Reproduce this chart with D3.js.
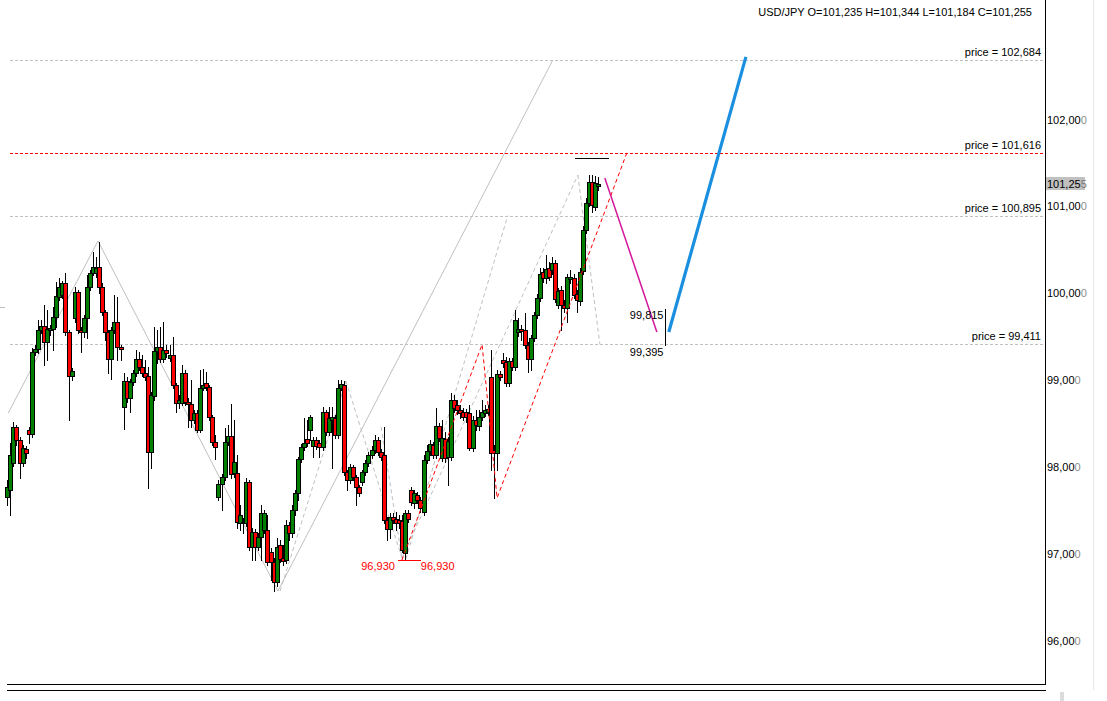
<!DOCTYPE html>
<html><head><meta charset="utf-8">
<script src="https://cdn.jsdelivr.net/npm/d3@7"></script>
<style>
html,body{margin:0;padding:0;background:#fff;}
svg{display:block;}
text{font-family:"Liberation Sans",Arial,sans-serif;font-size:11px;}
</style></head><body>
<svg id="chart" width="1107" height="701"></svg>
<script>
const symbol = "USD/JPY";
const opens = [97.656,97.737,98.047,98.462,98.312,98.047,98.208,98.427,98.381,99.325,99.359,99.578,99.624,99.440,99.578,99.589,99.727,99.957,99.980,100.119,99.555,99.048,99.716,100.015,99.578,99.555,99.716,100.073,100.234,100.234,100.303,100.073,99.785,99.555,99.244,99.578,99.670,99.382,98.692,98.991,98.795,98.979,99.083,99.244,99.152,99.083,99.048,98.174,98.818,99.336,99.382,99.244,99.348,99.256,99.290,98.945,98.738,98.738,99.083,98.749,98.726,98.542,98.623,98.427,98.910,98.968,98.922,98.577,98.289,97.656,97.806,97.886,98.289,98.358,97.932,97.932,97.357,97.368,97.357,97.829,97.081,97.253,97.081,97.196,97.276,97.276,97.023,96.908,96.678,97.104,96.954,96.931,97.334,97.242,97.506,97.702,98.093,98.231,98.323,98.427,98.243,98.312,98.277,98.231,98.634,98.404,98.542,98.565,98.370,98.910,98.945,97.944,97.852,98.001,97.886,97.771,97.829,97.944,98.047,98.139,98.197,98.312,98.174,98.139,97.391,97.288,97.426,97.403,97.391,97.380,97.012,97.472,97.737,97.587,97.679,97.622,97.483,98.082,98.185,98.254,98.139,98.473,98.105,98.323,98.116,98.116,98.772,98.715,98.657,98.634,98.634,98.623,98.220,98.542,98.473,98.577,98.623,98.634,99.037,98.197,98.162,99.071,99.233,99.210,98.968,99.221,99.152,99.555,99.589,99.578,99.405,99.244,99.486,99.750,99.946,100.245,100.176,100.291,100.268,100.349,99.865,100.038,99.865,99.831,100.165,100.176,99.992,99.911,100.257,100.728,101.039,101.281,100.993,101.235];
const highs = [97.852,98.277,98.519,98.485,98.346,98.254,98.243,98.462,99.371,99.405,99.693,99.693,99.865,99.808,99.635,99.842,100.130,100.176,100.142,100.234,99.578,99.140,100.073,100.038,99.612,99.750,100.211,100.268,100.475,100.418,100.590,100.119,99.808,99.578,99.612,99.980,99.957,99.405,99.083,99.037,99.014,99.117,99.348,99.325,99.290,99.233,99.152,98.864,99.612,99.578,99.612,99.670,99.405,99.405,99.497,98.968,98.830,99.175,99.117,98.795,99.002,98.657,98.657,99.117,99.129,99.094,98.945,98.600,98.370,97.852,97.921,98.450,98.485,98.726,98.542,98.139,97.564,97.414,97.875,97.852,97.299,97.288,97.242,97.564,97.506,97.449,97.069,96.954,97.184,97.161,97.104,97.391,97.368,97.564,97.737,98.116,98.266,98.565,98.542,98.600,98.346,98.346,98.312,98.692,98.657,98.692,98.692,98.600,99.002,99.002,98.991,97.967,98.036,98.024,97.909,97.794,97.967,98.082,98.174,98.243,98.370,98.346,98.208,98.462,97.426,97.472,97.472,97.483,97.449,97.449,97.506,97.506,97.771,97.737,97.714,97.656,98.139,98.254,98.312,98.289,98.680,98.508,98.542,98.404,98.346,98.853,98.830,98.772,98.715,98.680,98.669,98.715,98.588,98.657,98.657,98.772,98.715,98.715,99.348,98.254,99.117,99.106,99.313,99.267,99.256,99.256,99.808,99.716,99.635,99.773,99.440,99.520,99.785,99.992,100.291,100.291,100.441,100.360,100.418,100.383,100.061,100.084,99.923,100.222,100.268,100.222,100.038,100.291,100.774,101.097,101.361,101.361,101.350,101.344];
const lows = [97.564,97.449,98.013,98.254,97.875,98.013,98.105,98.277,98.346,99.290,99.313,99.543,99.175,99.233,99.520,99.348,99.612,99.923,99.946,99.520,98.542,99.002,99.670,99.543,99.325,99.497,99.486,100.038,100.211,100.188,100.003,99.750,99.463,99.083,99.014,99.543,99.233,99.233,98.439,98.749,98.634,98.945,99.048,99.117,99.048,99.002,97.760,97.990,98.772,99.198,99.210,99.210,99.267,99.221,98.910,98.634,98.680,98.715,98.715,98.462,98.462,98.508,98.404,98.404,98.887,98.887,98.542,98.254,98.093,97.622,97.506,97.852,98.254,97.875,97.886,97.299,97.276,97.242,97.322,97.046,96.931,96.931,97.046,96.931,97.242,96.874,96.701,96.574,96.632,96.908,96.874,96.897,97.161,97.196,97.449,97.622,98.059,98.197,98.243,98.312,98.116,98.208,98.116,98.197,98.370,98.370,97.990,98.335,98.335,98.887,97.909,97.737,97.817,97.852,97.564,97.668,97.794,97.909,98.013,98.105,98.162,98.139,98.082,97.357,97.161,97.184,97.357,97.276,97.299,97.023,96.931,97.368,97.564,97.529,97.587,97.483,97.449,98.047,98.139,98.105,98.105,98.300,98.070,98.059,97.794,98.082,98.634,98.611,98.565,98.542,98.519,98.197,98.185,98.427,98.427,98.542,98.588,98.600,97.967,97.645,97.967,99.002,99.152,98.933,98.933,99.117,99.117,99.509,99.463,99.371,99.094,99.117,99.451,99.716,99.911,100.130,100.119,100.153,100.222,99.900,99.831,99.578,99.785,99.670,100.119,99.946,99.785,99.865,100.222,100.694,101.005,100.936,100.959,101.184];
const closes = [97.771,98.139,98.462,98.312,98.047,98.220,98.162,98.381,99.325,99.359,99.578,99.624,99.440,99.589,99.601,99.727,99.969,100.073,100.119,99.555,99.048,99.106,100.015,99.578,99.555,99.716,100.073,100.234,100.303,100.291,100.073,99.785,99.555,99.244,99.578,99.670,99.382,99.359,98.991,98.795,98.979,99.083,99.244,99.152,99.083,99.037,98.174,98.830,99.336,99.382,99.244,99.348,99.313,99.290,98.945,98.738,98.772,99.083,98.749,98.726,98.542,98.623,98.427,98.910,98.945,98.922,98.577,98.289,98.231,97.806,97.886,98.289,98.358,97.921,98.059,97.368,97.449,97.357,97.829,97.081,97.253,97.081,97.196,97.472,97.472,96.908,96.908,96.678,97.081,96.943,96.920,97.334,97.242,97.506,97.702,98.093,98.231,98.277,98.277,98.577,98.312,98.243,98.231,98.634,98.404,98.565,98.577,98.370,98.910,98.956,97.944,97.852,98.001,97.886,97.771,97.702,97.944,98.047,98.139,98.197,98.312,98.174,98.116,97.391,97.288,97.426,97.391,97.357,97.357,97.046,97.472,97.403,97.599,97.702,97.622,97.529,98.082,98.185,98.266,98.139,98.473,98.335,98.335,98.105,98.300,98.772,98.680,98.657,98.623,98.577,98.577,98.220,98.542,98.485,98.577,98.634,98.657,98.669,98.162,98.162,99.071,99.037,99.198,98.968,99.221,99.152,99.693,99.589,99.566,99.405,99.244,99.486,99.750,99.946,100.222,100.176,100.280,100.188,100.349,99.934,100.027,99.865,99.831,100.188,100.188,99.980,99.923,100.245,100.728,101.039,101.281,101.016,101.269,101.255];

const yTicks = [96, 97, 98, 99, 100, 101, 102];
const priceLevels = [102.684, 101.616, 100.895, 99.411];
const activeLevelIndex = 1;

// drawings: [bar index, price]
const zigzag = [[0, 98.623], [29.3, 100.602], [88.1, 96.574], [177.9, 102.684]];
const grayDashed = [
  [[88.8, 96.574], [110.3, 98.991]],
  [[110.3, 98.991], [128.6, 96.954]],
  [[121.8, 98.462], [128.6, 96.954]],
  [[129.9, 96.943], [163.2, 100.895]],
  [[128.6, 96.954], [186.1, 101.361]],
  [[186.1, 101.361], [193.3, 99.411]]
];
const redDashed = [[128.6, 96.930], [154.8, 99.411], [159.7, 97.645], [202.1, 101.616]];
const lowMark = {from: 127.3, to: 134.8, price: 96.930};
const topMark = {from: 185.1, to: 196.2, price: 101.557};
const magentaLeg = [[194.9, 101.327], [211.9, 99.555]];
const rangeBar = {at: 214.5, low: 99.395, high: 99.815};
const blueLeg = [[215.8, 99.555], [241.0, 102.72]];
const edgeMark = {from: -2.7, to: -1.1, price: 99.842};

const plotRight = 1045, plotBottom = 684;
const svg = d3.select("#chart");

const n = opens.length;
const x = d3.scaleLinear().domain([0, n - 1]).range([8.3, 599]);
const y = d3.scaleLinear().domain([96, 102]).range([640.9, 119.5]);
const fmt3 = v => v.toFixed(3).replace(".", ",");
const crisp = v => Math.round(v) + 0.5;
const line = d3.line().x(d => x(d[0])).y(d => y(d[1]));

const g = svg.append("g");

// price level lines
priceLevels.forEach((p, k) => {
  const red = k === activeLevelIndex;
  g.append("line")
    .attr("x1", Math.round(x(0.55))).attr("x2", plotRight)
    .attr("y1", crisp(y(p))).attr("y2", crisp(y(p)))
    .attr("stroke", red ? "#ff0000" : "#c0c0c0")
    .attr("stroke-width", 1)
    .attr("shape-rendering", "crispEdges")
    .attr("stroke-dasharray", "3,2");
});
g.append("line")
  .attr("x1", x(edgeMark.from)).attr("x2", x(edgeMark.to))
  .attr("y1", crisp(y(edgeMark.price))).attr("y2", crisp(y(edgeMark.price)))
  .attr("stroke", "#c0c0c0").attr("shape-rendering", "crispEdges");

// zigzag solid
g.append("path").attr("d", line(zigzag)).attr("fill", "none")
  .attr("stroke", "#c0c0c0").attr("stroke-width", 1);
// gray dashed
grayDashed.forEach(seg => {
  g.append("path").attr("d", line(seg)).attr("fill", "none")
    .attr("stroke", "#c0c0c0").attr("stroke-width", 1).attr("stroke-dasharray", "4,3");
});

// candles
const candles = d3.range(n).map(i => ({i, o: opens[i], h: highs[i], l: lows[i], c: closes[i]}));
const cg = g.append("g").attr("shape-rendering", "crispEdges");
candles.forEach(d => {
  const px = Math.round(x(d.i));
  const up = d.c >= d.o;
  cg.append("line")
    .attr("x1", px - 0.5).attr("x2", px - 0.5)
    .attr("y1", Math.round(y(d.h))).attr("y2", Math.round(y(d.l)) + 1)
    .attr("stroke", "#000").attr("stroke-width", 1);
  const top = Math.round(y(Math.max(d.o, d.c)));
  const bot = Math.round(y(Math.min(d.o, d.c)));
  cg.append("rect")
    .attr("x", px - 2.5).attr("width", 4)
    .attr("y", top + 0.5).attr("height", Math.max(bot - top, 1))
    .attr("fill", up ? "#008000" : "#ff0000")
    .attr("stroke", "#000").attr("stroke-width", 1);
});

// red dashed legs
g.append("path").attr("d", line(redDashed)).attr("fill", "none")
  .attr("stroke", "#ff0000").attr("stroke-width", 1).attr("stroke-dasharray", "4,3");

// low mark
g.append("line")
  .attr("x1", x(lowMark.from)).attr("x2", x(lowMark.to))
  .attr("y1", crisp(y(lowMark.price))).attr("y2", crisp(y(lowMark.price)))
  .attr("stroke", "#ff0000").attr("shape-rendering", "crispEdges");
g.append("text").attr("x", x(lowMark.from) - 3).attr("y", y(lowMark.price) + 10)
  .attr("text-anchor", "end").attr("fill", "#ff0000").text(fmt3(lowMark.price));
g.append("text").attr("x", x(lowMark.to)).attr("y", y(lowMark.price) + 10)
  .attr("fill", "#ff0000").text(fmt3(lowMark.price));

// top mark
g.append("line")
  .attr("x1", x(topMark.from)).attr("x2", x(topMark.to))
  .attr("y1", crisp(y(topMark.price))).attr("y2", crisp(y(topMark.price)))
  .attr("stroke", "#000").attr("shape-rendering", "crispEdges");

// magenta leg
g.append("path").attr("d", line(magentaLeg)).attr("fill", "none")
  .attr("stroke", "#d4169a").attr("stroke-width", 1.5);

// range bar
const rbx = crisp(x(rangeBar.at));
g.append("line").attr("x1", rbx).attr("x2", rbx)
  .attr("y1", y(rangeBar.high)).attr("y2", y(rangeBar.low))
  .attr("stroke", "#000").attr("shape-rendering", "crispEdges");
g.append("text").attr("x", rbx - 2).attr("y", y(rangeBar.high) + 9.5)
  .attr("text-anchor", "end").text(fmt3(rangeBar.high));
g.append("text").attr("x", rbx - 2).attr("y", y(rangeBar.low) + 10.5)
  .attr("text-anchor", "end").text(fmt3(rangeBar.low));

// blue leg
g.append("path").attr("d", line(blueLeg)).attr("fill", "none")
  .attr("stroke", "#1a8fe0").attr("stroke-width", 3.2);

// price level labels
priceLevels.forEach(p => {
  g.append("text").attr("x", plotRight - 4).attr("y", y(p) - 4)
    .attr("text-anchor", "end").text("price = " + fmt3(p));
});

// frame
const fr = svg.append("g").attr("shape-rendering", "crispEdges");
fr.append("line").attr("x1", plotRight + 0.5).attr("x2", plotRight + 0.5)
  .attr("y1", 0).attr("y2", plotBottom + 0.5).attr("stroke", "#000");
fr.append("line").attr("x1", 7).attr("x2", plotRight + 1)
  .attr("y1", plotBottom + 0.5).attr("y2", plotBottom + 0.5).attr("stroke", "#000");
fr.append("line").attr("x1", 7).attr("x2", plotRight + 1)
  .attr("y1", plotBottom + 6.5).attr("y2", plotBottom + 6.5).attr("stroke", "#000");
fr.append("line").attr("x1", 1093.5).attr("x2", 1093.5)
  .attr("y1", 0).attr("y2", plotBottom + 6).attr("stroke", "#e6e6e6");
fr.append("rect").attr("x", 1060).attr("y", 692).attr("width", 4).attr("height", 9)
  .attr("fill", "#dcdcdc");

// right axis
const axis = d3.axisRight(y).tickValues(yTicks).tickSize(0).tickPadding(2)
  .tickFormat(v => v.toFixed(3).replace(".", ","));
const ag = svg.append("g").attr("transform", `translate(${plotRight},0)`).call(axis);
ag.select(".domain").remove();
ag.selectAll("text").each(function(v) {
  const s = v.toFixed(3).replace(".", ",");
  const t = d3.select(this).text(null).attr("fill", null)
    .style("font-family", '"Liberation Sans",Arial,sans-serif').style("font-size", "11px");
  t.append("tspan").attr("fill", "#000").text(s.slice(0, -1));
  t.append("tspan").attr("fill", "#8c8c8c").text(s.slice(-1));
});

// current price tag
const last = candles[n - 1];
const cy = y(last.c);
svg.append("rect").attr("x", plotRight + 1).attr("y", Math.round(cy) - 7)
  .attr("width", 39).attr("height", 13).attr("fill", "#c0c0c0");
const ct = svg.append("text").attr("x", plotRight + 2).attr("y", cy + 3.5);
ct.append("tspan").attr("fill", "#000").text(fmt3(last.c).slice(0, -1));
ct.append("tspan").attr("fill", "#7a7a7a").text(fmt3(last.c).slice(-1));

// header
svg.append("text").attr("x", 1032).attr("y", 16).attr("text-anchor", "end")
  .text(`${symbol} O=${fmt3(last.o)} H=${fmt3(last.h)} L=${fmt3(last.l)} C=${fmt3(last.c)}`);
</script>
</body></html>
